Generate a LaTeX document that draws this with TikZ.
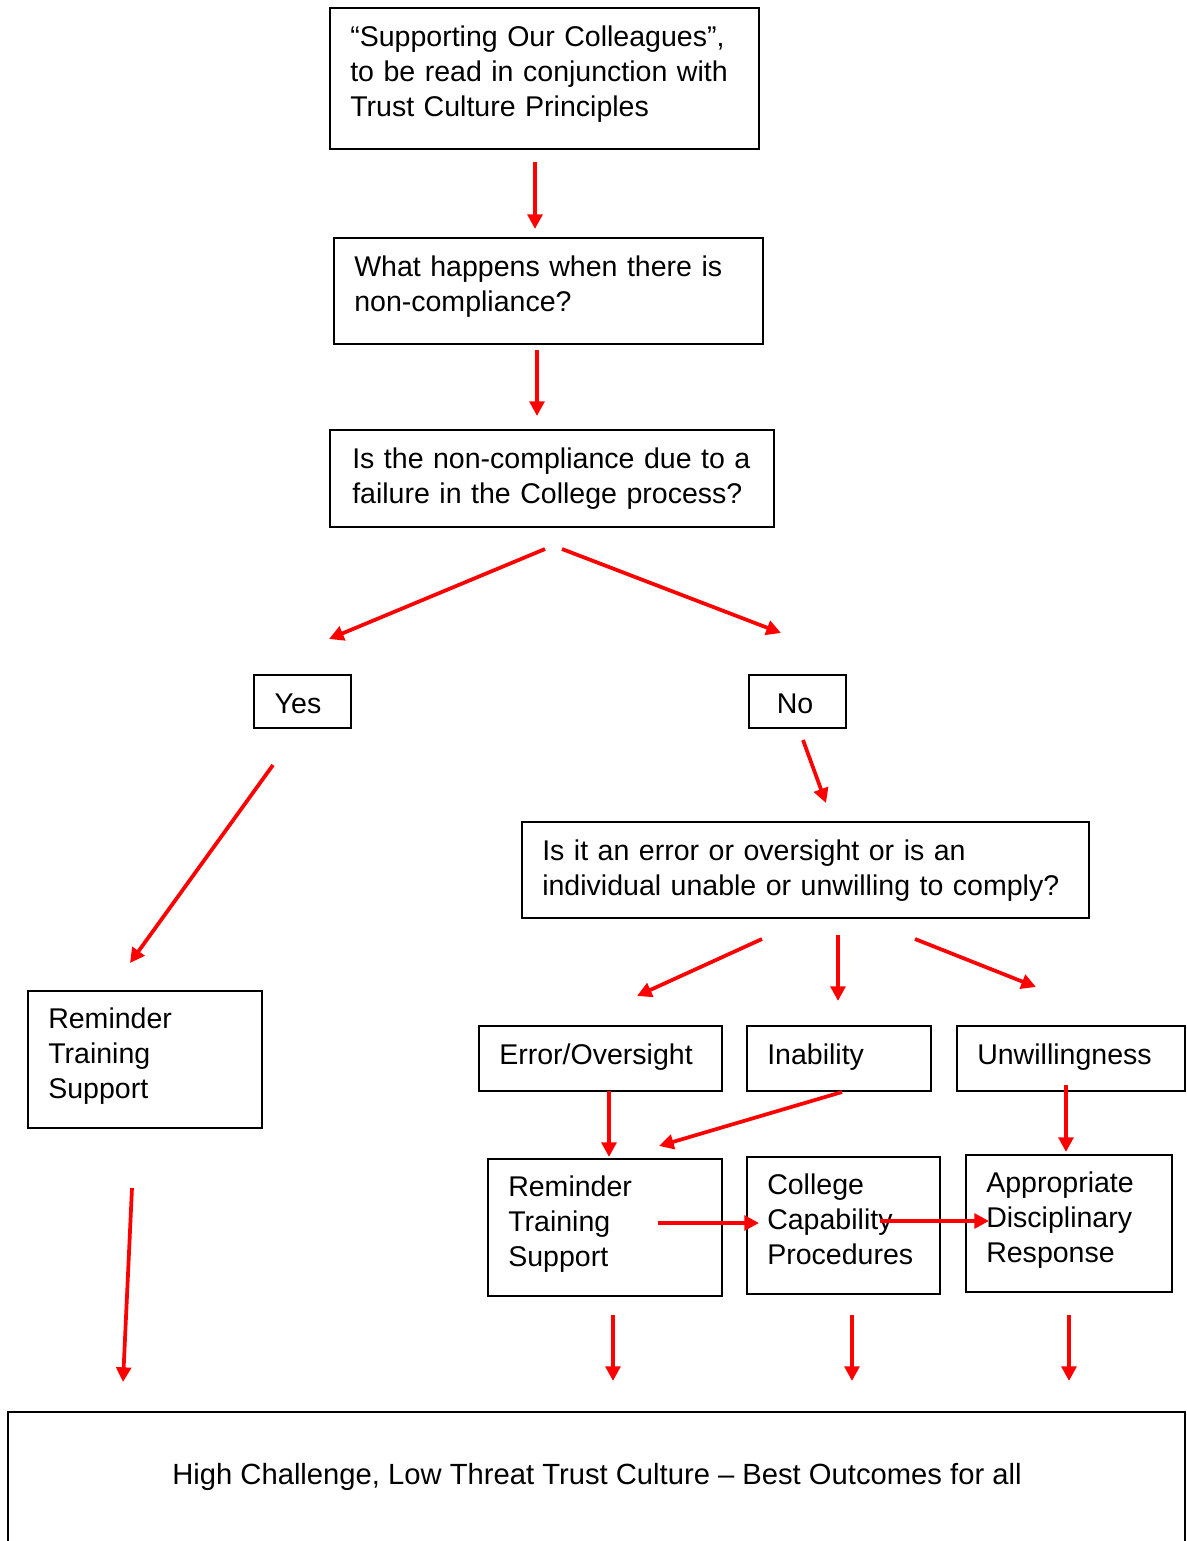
\documentclass[tikz,border=0pt]{standalone}
\usepackage{fontspec}
\setmainfont{Liberation Sans}
\usetikzlibrary{arrows.meta,fit}
\definecolor{arrred}{RGB}{255,0,0}
\tikzset{
  box/.style={draw=black, line width=0.8pt, inner sep=0pt},
  txt/.style={anchor=base west, inner sep=0pt, text width=600pt, align=left,
    font=\fontsize{21.4}{26.25}\selectfont},
  ctxt/.style={anchor=base, inner sep=0pt, font=\fontsize{21.4}{26.25}\selectfont},
  btxt/.style={anchor=base, inner sep=0pt, font=\fontsize{21.9}{26.25}\selectfont},
  arr/.style={draw=arrred, line width=2.8pt, -{Triangle[length=11pt,width=11pt]}, shorten >=0pt}
}
\begin{document}
\begin{tikzpicture}[x=0.75pt,y=-0.75pt]
\useasboundingbox (0,0) rectangle (1186,1541);
% boxes
\node[box, fit={(330,8)(759,149)}] (b1) {};
\node[txt] (t1) at (350,47) {“Supporting Our Colleagues”,\\to be read in conjunction with\\Trust Culture Principles};
\node[box, fit={(334,238)(763,344)}] (b2) {};
\node[txt] (t2) at (354,276) {What happens when there is\\non-compliance?};
\node[box, fit={(330,430)(774,527)}] (b3) {};
\node[txt] (t3) at (352,468) {Is the non-compliance due to a\\failure in the College process?};
\node[box, fit={(254,675)(351,728)}] (yes) {};
\node[ctxt] (tyes) at (298,713) {Yes};
\node[box, fit={(749,675)(846,728)}] (no) {};
\node[ctxt] (tno) at (795,713) {No};
\node[box, fit={(522,822)(1089,918)}] (q) {};
\node[txt] (tq) at (542,860) {Is it an error or oversight or is an\\individual unable or unwilling to comply?};
\node[box, fit={(28,991)(262,1128)}] (rl) {};
\node[txt] (trl) at (48,1028) {Reminder\\Training\\Support};
\node[box, fit={(479,1026)(722,1091)}] (err) {};
\node[txt] (terr) at (499,1064) {Error/Oversight};
\node[box, fit={(747,1026)(931,1091)}] (inab) {};
\node[txt] (tinab) at (767,1064) {Inability};
\node[box, fit={(957,1026)(1185,1091)}] (unw) {};
\node[txt] (tunw) at (977,1064) {Unwillingness};
\node[box, fit={(488,1159)(722,1296)}] (rr) {};
\node[txt] (trr) at (508,1196) {Reminder\\Training\\Support};
\node[box, fit={(747,1157)(940,1294)}] (cc) {};
\node[txt] (tcc) at (767,1194) {College\\Capability\\Procedures};
\node[box, fit={(966,1155)(1172,1292)}] (ad) {};
\node[txt] (tad) at (986,1192) {Appropriate\\Disciplinary\\Response};
\begin{scope}
\clip (0,0) rectangle (1186,1541);
\node[box, fit={(8,1412)(1185,1600)}] (bot) {};
\end{scope}
\node[btxt] (tbot) at (597,1484) {High Challenge, Low Threat Trust Culture – Best Outcomes for all};
% arrow coordinates
\coordinate (a1s) at (535,162); \coordinate (a1e) at (535,229);
\coordinate (a2s) at (537,350); \coordinate (a2e) at (537,416);
\coordinate (a3s) at (545,549); \coordinate (a3e) at (329,639);
\coordinate (a4s) at (562,549); \coordinate (a4e) at (781,633);
\coordinate (a5s) at (273,765); \coordinate (a5e) at (130,963);
\coordinate (a6s) at (803,740); \coordinate (a6e) at (826,803);
\coordinate (a7s) at (762,939); \coordinate (a7e) at (637,996);
\coordinate (a8s) at (838,935); \coordinate (a8e) at (838,1001);
\coordinate (a9s) at (915,939); \coordinate (a9e) at (1036,987);
\coordinate (a10s) at (609,1091); \coordinate (a10e) at (609,1157);
\coordinate (a11s) at (842,1092); \coordinate (a11e) at (659,1146);
\coordinate (a12s) at (1066,1085); \coordinate (a12e) at (1066,1152);
\coordinate (a13s) at (658,1223); \coordinate (a13e) at (759,1223);
\coordinate (a14s) at (880,1221); \coordinate (a14e) at (989,1221);
\coordinate (a15s) at (132,1188); \coordinate (a15e) at (123,1382);
\coordinate (a16s) at (613,1315); \coordinate (a16e) at (613,1381);
\coordinate (a17s) at (852,1315); \coordinate (a17e) at (852,1381);
\coordinate (a18s) at (1069,1315); \coordinate (a18e) at (1069,1381);
\foreach \i in {1,...,18} { \draw[arr] (a\i s) -- (a\i e); }
\end{tikzpicture}
\end{document}
